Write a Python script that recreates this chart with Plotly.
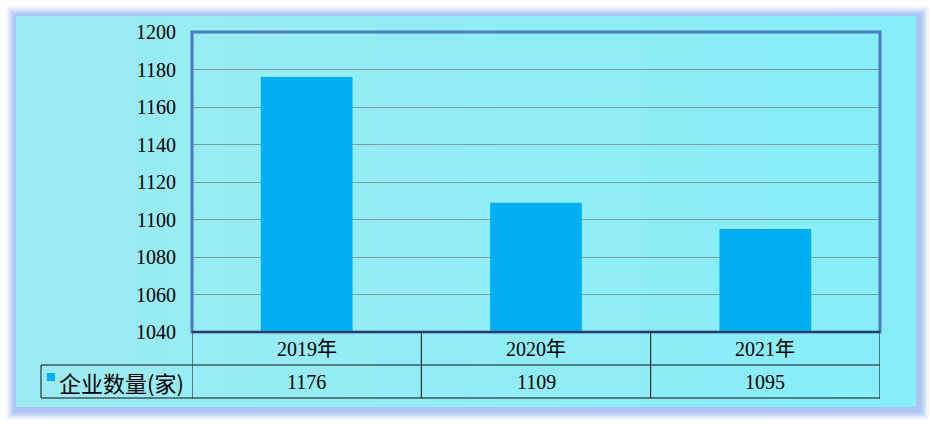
import plotly.graph_objects as go

categories = ["2019年", "2020年", "2021年"]
values = [1176, 1109, 1095]
series_name = "企业数量(家)"
y_ticks = [1040, 1060, 1080, 1100, 1120, 1140, 1160, 1180, 1200]

W, H = 932, 424
def px(x): return x / W
def py(y): return 1 - y / H

BAR = "#00B0F0"
fig = go.Figure()
fig.add_trace(go.Bar(x=list(range(len(categories))), y=values, marker_color=BAR,
                     marker_line_width=0, width=0.4, name=series_name, showlegend=False,
                     hoverinfo="skip"))

shapes = []
# soft glow around the panel (largest / faintest first)
glow = [(11, "rgba(190,210,247,0.18)"), (9, "rgba(185,208,246,0.3)"), (7, "rgba(180,204,245,0.5)"),
        (5, "rgba(176,200,244,0.7)"), (3, "rgba(172,196,243,0.9)"), (1, "rgb(170,195,242)")]
for off, col in glow:
    shapes.append(dict(type="rect", xref="paper", yref="paper", x0=px(16 - off + 1), x1=px(916 + off + 2),
                       y0=py(407 + off + 2), y1=py(16 - off + 1), line_width=0, fillcolor=col, layer="below"))
# panel with a light horizontal gradient
n = 30
c0 = (0x9C, 0xEB, 0xF2); c1 = (0x87, 0xEE, 0xF9)
for i in range(n):
    t = i / (n - 1)
    c = tuple(int(round(c0[k] + (c1[k] - c0[k]) * t)) for k in range(3))
    x0 = 16 + (916 - 16) * i / n
    x1 = min(916, 16 + (916 - 16) * (i + 1) / n + 0.8)
    shapes.append(dict(type="rect", xref="paper", yref="paper", x0=px(x0), x1=px(x1), y0=py(407), y1=py(16),
                       line_width=0, fillcolor="rgb(%d,%d,%d)" % c, layer="below"))
# plot border
shapes.append(dict(type="rect", xref="paper", yref="paper", x0=px(192), x1=px(880), y0=py(332), y1=py(32),
                   line=dict(color="#4A7CC0", width=3), layer="above"))
# data table lines
L = dict(color="#101010", width=1)
nc = len(categories)
for b in [i - 0.5 for i in range(nc + 1)]:
    shapes.append(dict(type="line", xref="x", yref="paper", x0=b, x1=b, y0=py(332), y1=py(398), line=L))
shapes.append(dict(type="line", xref="paper", yref="paper", x0=px(41), x1=px(41), y0=py(365), y1=py(398), line=L))
shapes.append(dict(type="line", xref="paper", yref="paper", x0=px(41), x1=px(880), y0=py(365), y1=py(365), line=L))
shapes.append(dict(type="line", xref="paper", yref="paper", x0=px(41), x1=px(880), y0=py(398), y1=py(398), line=L))
shapes.append(dict(type="line", xref="paper", yref="paper", x0=px(192), x1=px(880), y0=py(332), y1=py(332),
                   line=dict(color="#2A3E6A", width=2)))
# legend key
shapes.append(dict(type="rect", xref="paper", yref="paper", x0=px(47), x1=px(55), y0=py(381), y1=py(373),
                   line_width=0, fillcolor=BAR))

annotations = []
NUMF = dict(family="Liberation Serif", size=20, color="#000000")
CATF = dict(family="Liberation Serif, Noto Sans CJK SC", size=20, color="#000000")
for i, (c, v) in enumerate(zip(categories, values)):
    annotations.append(dict(x=i, y=py(349), xref="x", yref="paper", text=c, showarrow=False,
                            font=CATF, yanchor="middle"))
    annotations.append(dict(x=i, y=py(382), xref="x", yref="paper", text=str(v), showarrow=False,
                            font=NUMF, yanchor="middle"))
annotations.append(dict(x=px(57), y=py(382), xref="paper", yref="paper", text=series_name, showarrow=False,
                        xanchor="left", yanchor="middle",
                        font=dict(family="Noto Sans CJK SC", size=22, color="#000000")))

fig.update_layout(
    width=W, height=H, autosize=False, margin=dict(l=0, r=0, t=0, b=0, pad=0),
    paper_bgcolor="white", plot_bgcolor="rgba(0,0,0,0)",
    xaxis=dict(domain=[px(192), px(880)], range=[-0.5, nc - 0.5], showticklabels=False, showgrid=False,
               zeroline=False, showline=False, fixedrange=True, automargin=False),
    yaxis=dict(domain=[py(332), py(32)], range=[1040, 1200], tickvals=y_ticks, showgrid=True,
               gridcolor="#7E9C9E", gridwidth=1, zeroline=False, showline=False, ticks="",
               tickfont=NUMF, ticklabelstandoff=15, automargin=False, fixedrange=True),
    shapes=shapes, annotations=annotations, showlegend=False,
)
fig.write_html("out.html", config={"displayModeBar": False},
               post_script="document.body.style.margin='0';document.body.style.overflow='hidden';")
